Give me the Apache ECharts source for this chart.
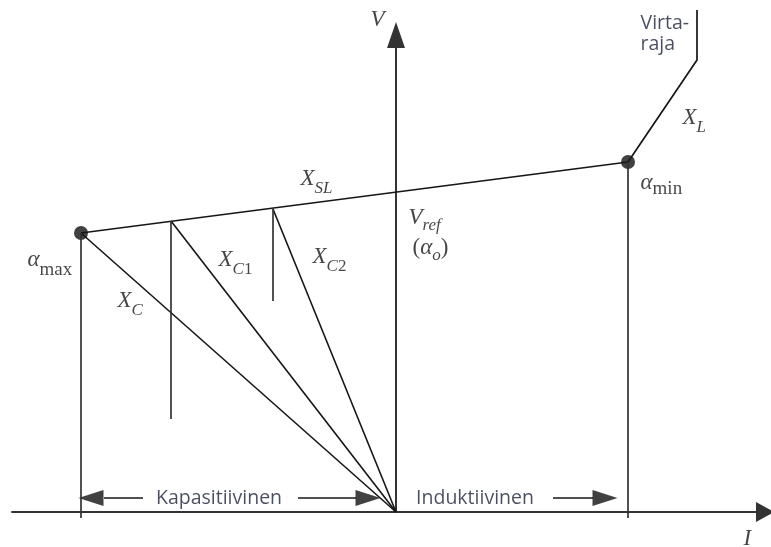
<!DOCTYPE html>
<html>
<head>
<meta charset="utf-8">
<script src="https://cdn.jsdelivr.net/npm/echarts@6/dist/echarts.min.js"></script>
<style>
  html, body { margin: 0; background: #fff; }
  #chart { width: 771px; height: 547px; }
</style>
</head>
<body>
<div id="chart"></div>
<script>
// V-I characteristic: I on the horizontal axis, V on the vertical, origin where the axes cross
const characteristic = [[-315, 279], [232, 350], [301, 452], [301, 502]];
const capacitorLines = [
  [[-315, 279], [0, 0]],   // X_C
  [[-225, 291], [0, 0]],   // X_C1
  [[-123, 303], [0, 0]]    // X_C2
];
const dropLines = [
  [[-315, 279], [-315, -6]],
  [[232, 350], [232, -6]],
  [[-225, 291], [-225, 93]],
  [[-123, 303], [-123, 211]]
];
const limitPoints = [[-315, 279], [232, 350]];
const rangeShafts = [
  [[-292, 14], [-253, 14]],
  [[-98, 14], [-40, 14]],
  [[157, 14], [197, 14]]
];
const rangeHeads = [[-305, 14, 90], [-28, 14, -90], [209, 14, -90]];
const rangeLabels = [[-177, 14, 'Kapasitiivinen'], [79, 14, 'Induktiivinen']];
const noteLabels = [[244, 489, 'Virta-'], [244, 468, 'raja']];
const mathLabels = [
  [-26, 492, '{x|V}'],
  [347, -27, '{x|I}'],
  [286, 394, '{x|X}{s|L}'],
  [244, 329, '{x|α}{n|min}'],
  [-369, 252, '{x|α}{m|max}'],
  [-96, 333, '{x|X}{s|SL}'],
  [-178, 252, '{x|X}{s|C}{d|1}'],
  [-84, 255, '{x|X}{s|C}{d|2}'],
  [-279, 211, '{x|X}{s|C}'],
  [12, 294, '{x|V}{t|ref}'],
  [16, 264, '{r|(}{x|α}{t|o}{r|)}']
];

const ink = '#161616';
const serif = 'Liberation Serif';
const noteColor = '#1c2238';

const lineSeries = (data, color, width) => ({
  type: 'line',
  data: data,
  symbol: 'none',
  clip: false,
  silent: true,
  lineStyle: { color: color, width: width }
});

const series = [];
series.push(lineSeries(characteristic, ink, 1.7));
capacitorLines.forEach(d => series.push(lineSeries(d, ink, 1.6)));
dropLines.forEach(d => series.push(lineSeries(d, '#333', 1.7)));
rangeShafts.forEach(d => series.push(lineSeries(d, ink, 1.6)));

series.push({
  type: 'scatter',
  data: limitPoints,
  symbolSize: 14,
  clip: false,
  silent: true,
  itemStyle: { color: '#111' }
});

series.push({
  type: 'scatter',
  data: rangeHeads,
  symbol: 'triangle',
  symbolSize: [16, 25],
  symbolRotate: val => val[2],
  clip: false,
  silent: true,
  itemStyle: { color: '#111' }
});

series.push({
  type: 'scatter',
  data: mathLabels.map(d => ({ name: d[2], value: [d[0], d[1]] })),
  symbolSize: 1,
  clip: false,
  silent: true,
  itemStyle: { color: 'transparent' },
  label: {
    show: true,
    position: 'right',
    distance: 0,
    formatter: p => p.name,
    rich: {
      x: { fontFamily: serif, fontStyle: 'italic', fontSize: 23, color: ink, lineHeight: 26 },
      r: { fontFamily: serif, fontSize: 23, color: ink, lineHeight: 26 },
      s: { fontFamily: serif, fontStyle: 'italic', fontSize: 17, color: ink, lineHeight: 10, padding: [20, 0, 0, 0] },
      t: { fontFamily: serif, fontStyle: 'italic', fontSize: 17, color: ink, lineHeight: 10, padding: [15, 0, 0, 0] },
      d: { fontFamily: serif, fontSize: 17, color: ink, lineHeight: 10, padding: [20, 0, 0, 0] },
      m: { fontFamily: serif, fontSize: 19, color: ink, lineHeight: 10, padding: [20, 0, 0, 0] },
      n: { fontFamily: serif, fontSize: 19, color: ink, lineHeight: 10, padding: [12, 0, 0, 0] }
    }
  }
});

series.push({
  type: 'scatter',
  data: noteLabels.map(d => ({ name: d[2], value: [d[0], d[1]] })),
  symbolSize: 1,
  clip: false,
  silent: true,
  itemStyle: { color: 'transparent' },
  label: {
    show: true,
    position: 'right',
    distance: 0,
    formatter: p => p.name,
    fontFamily: 'Open Sans',
    fontSize: 19.5,
    color: noteColor
  }
});

series.push({
  type: 'scatter',
  data: rangeLabels.map(d => ({ name: d[2], value: [d[0], d[1]] })),
  symbolSize: 1,
  clip: false,
  silent: true,
  itemStyle: { color: 'transparent' },
  label: {
    show: true,
    position: 'inside',
    formatter: p => p.name,
    fontFamily: 'Open Sans',
    fontSize: 19.5,
    color: noteColor
  }
});

const axisLineStyle = { color: '#333', width: 2 };

const chart = echarts.init(document.getElementById('chart'));
chart.setOption({
  animation: false,
  backgroundColor: '#fff',
  grid: { left: 12, right: 6, top: 35, bottom: 35 },
  xAxis: {
    type: 'value',
    min: -384,
    max: 369,
    axisLine: { show: true, onZero: false, symbol: ['none', 'triangle'], symbolSize: [20, 18], lineStyle: axisLineStyle },
    axisTick: { show: false },
    axisLabel: { show: false },
    splitLine: { show: false }
  },
  yAxis: {
    type: 'value',
    min: 0,
    max: 477,
    axisLine: { show: true, onZero: true, symbol: ['none', 'triangle'], symbolSize: [18, 26], lineStyle: axisLineStyle },
    axisTick: { show: false },
    axisLabel: { show: false },
    splitLine: { show: false }
  },
  series: series
});
</script>
</body>
</html>
